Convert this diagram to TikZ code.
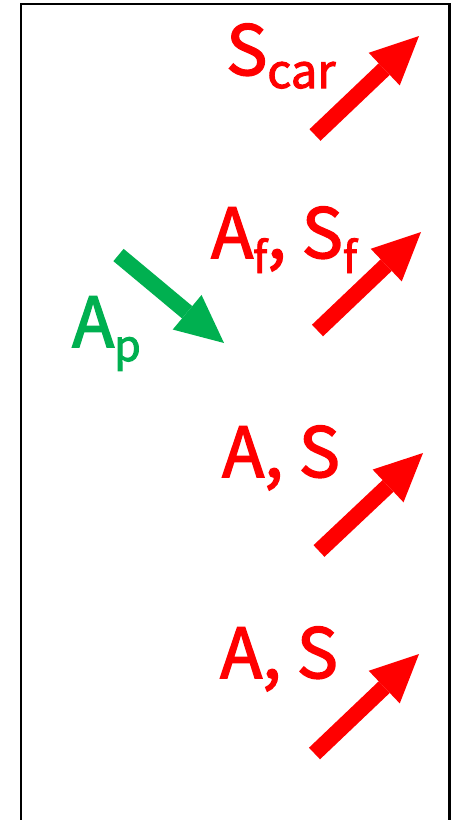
\documentclass[tikz,border=0pt]{standalone}
\usepackage{fontspec}
\setmainfont{Noto Sans CJK JP}[FakeBold=2.2]
\usetikzlibrary{arrows.meta}

\definecolor{officegreen}{HTML}{00B050}
\newcommand{\lowsub}[3]{\raisebox{-#1pt}{\fontsize{#2}{#2}\selectfont #3}}

\begin{document}
\begin{tikzpicture}[
  x=1pt, y=-1pt,
  frame/.style={draw=black, line width=2.5pt},
  vec/.style={
    line width=16pt,
    -{Triangle[length=48pt, width=45pt, line width=0pt]}
  },
  tag/.style={
    anchor=base west,
    inner sep=0pt,
    font=\fontsize{69}{69}\selectfont
  }
]
  \useasboundingbox (0,0) rectangle (454,820);
  \clip (0,0) rectangle (454,820);
  \draw[frame] (21,4) rectangle (449.5,840);

  % labels
  \node[tag, red] (scar) at (226,75) {S\lowsub{13}{47}{car}};
  \node[tag, red] (afsf) at (211,258) {A\lowsub{15}{43}{f}, S\lowsub{15}{43}{f}};
  \node[tag, officegreen] (ap) at (72,347) {A\lowsub{14}{43}{p}};
  \node[tag, red] (as1) at (222,477) {A, S};
  \node[tag, red] (as2) at (220,678) {A, S};

  % arrow ends
  \coordinate (scar tail) at (315,135);
  \coordinate (scar tip) at (419,36);
  \coordinate (afsf tail) at (317.5,330.5);
  \coordinate (afsf tip) at (421,232);
  \coordinate (ap tail) at (118.5,255);
  \coordinate (ap tip) at (224,343);
  \coordinate (as1 tail) at (319,551);
  \coordinate (as1 tip) at (423,453);
  \coordinate (as2 tail) at (314.5,753.5);
  \coordinate (as2 tip) at (419,654);

  \draw[vec, red] (scar tail) -- (scar tip);
  \draw[vec, red] (afsf tail) -- (afsf tip);
  \draw[vec, officegreen] (ap tail) -- (ap tip);
  \draw[vec, red] (as1 tail) -- (as1 tip);
  \draw[vec, red] (as2 tail) -- (as2 tip);
\end{tikzpicture}
\end{document}
